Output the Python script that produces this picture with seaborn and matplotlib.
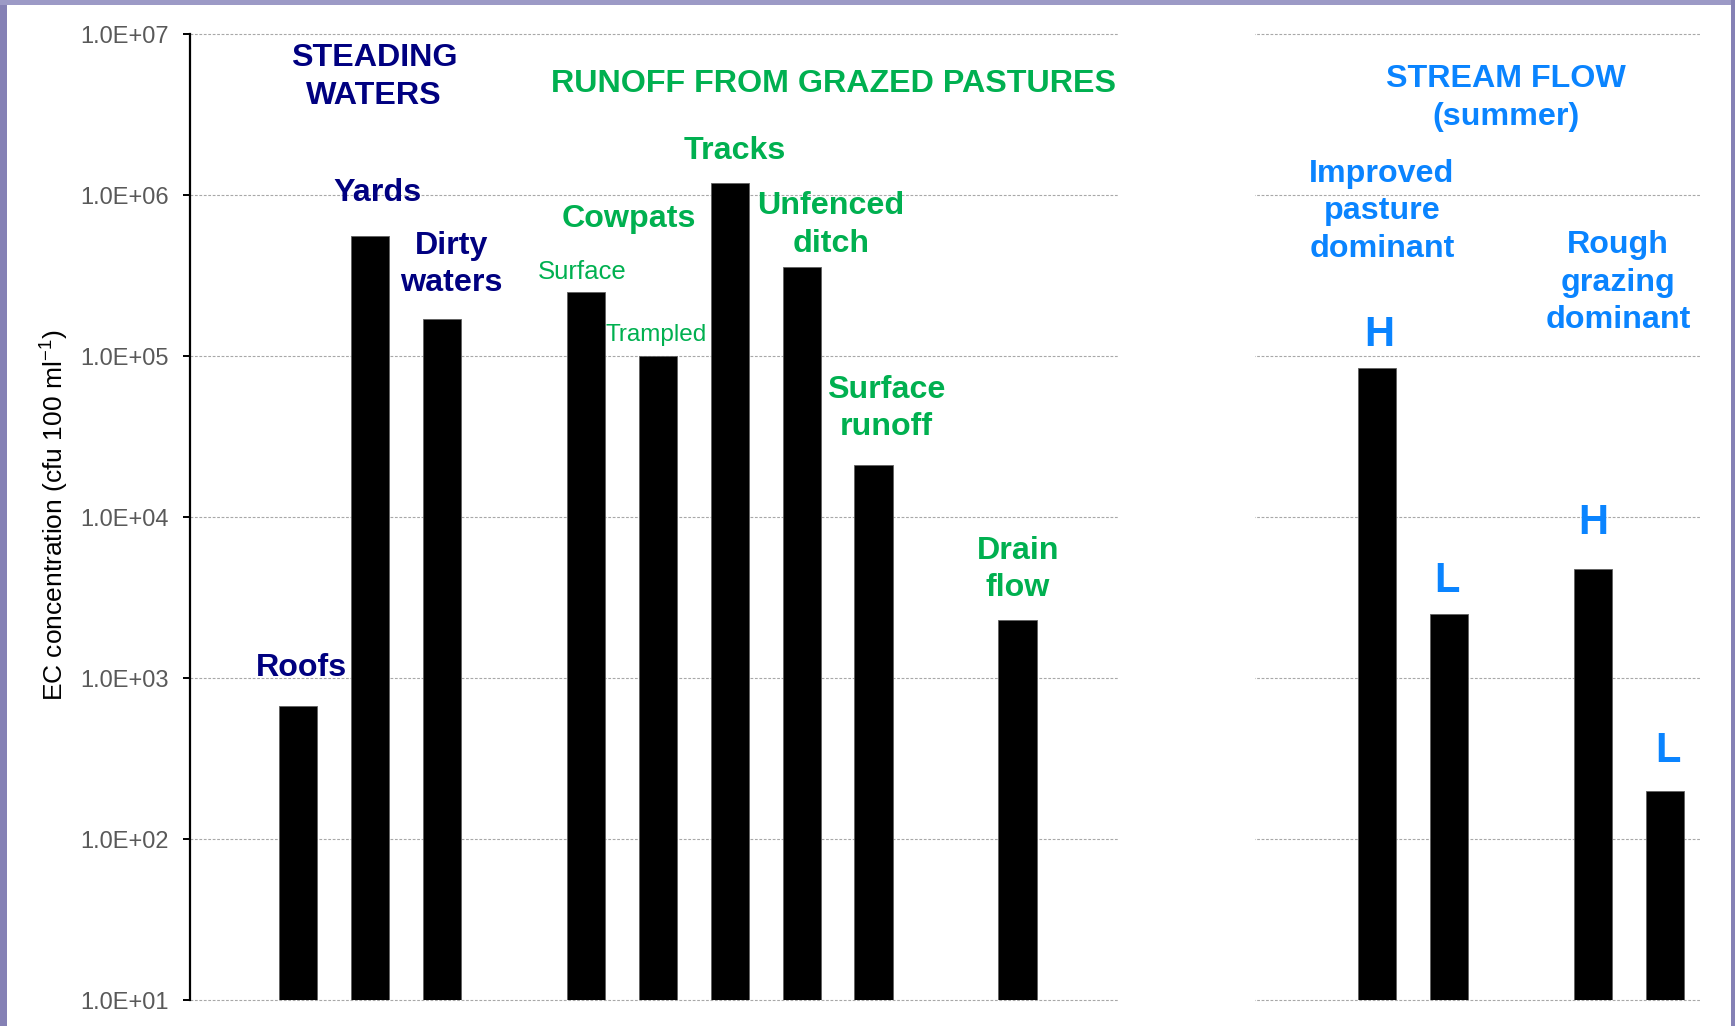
import numpy as np
import pandas as pd
import matplotlib
matplotlib.use("Agg")
import matplotlib.pyplot as plt
from matplotlib.ticker import FixedLocator, FuncFormatter, NullLocator
from matplotlib.patches import Rectangle
import seaborn as sns

# ---------------- data ----------------
sites = ["Roofs", "Yards", "Dirty waters",
         "Cowpats surface", "Cowpats trampled", "Tracks", "Unfenced ditch",
         "Surface runoff", "Drain flow",
         "Improved pasture H", "Improved pasture L",
         "Rough grazing H", "Rough grazing L"]
ec_values = [670, 560000, 170000,
             250000, 100000, 1200000, 360000,
             21000, 2300,
             85000, 2500,
             4800, 200]
ytick_values = [1e1, 1e2, 1e3, 1e4, 1e5, 1e6, 1e7]

# category order incl. empty slots (layout)
order = ["_0", "Roofs", "Yards", "Dirty waters", "_1",
         "Cowpats surface", "Cowpats trampled", "Tracks", "Unfenced ditch",
         "Surface runoff", "_2", "Drain flow", "_3", "_4", "_5", "_6",
         "Improved pasture H", "Improved pasture L", "_7",
         "Rough grazing H", "Rough grazing L"]

df = pd.DataFrame({"site": sites, "ec": ec_values})

# ---------------- style ----------------
sns.set_style("white")
plt.rcParams["font.family"] = ["Liberation Sans", "DejaVu Sans"]
plt.rcParams["mathtext.fontset"] = "custom"
plt.rcParams["mathtext.rm"] = "Liberation Sans"
plt.rcParams["mathtext.it"] = "Liberation Sans:italic"
plt.rcParams["mathtext.bf"] = "Liberation Sans:bold"

W, H = 1735, 1026
fig = plt.figure(figsize=(W / 100, H / 100), dpi=100)
fig.patch.set_facecolor("white")

ax_l, ax_r, ax_t, ax_b = 190, 1701, 34.3, 1000.3
ax = fig.add_axes([ax_l / W, 1 - ax_b / H, (ax_r - ax_l) / W, (ax_b - ax_t) / H])

sns.barplot(data=df, x="site", y="ec", order=order, color="black",
            width=0.53, edgecolor="#606060", linewidth=0.6,
            saturation=1, errorbar=None, ax=ax)
for p in ax.patches:
    p.set_facecolor("black")

ax.set_yscale("log")
ax.set_ylim(10, 1e7)
ax.set_xlim(-0.5, len(order) - 0.5)
ax.yaxis.set_major_locator(FixedLocator(ytick_values))
ax.yaxis.set_minor_locator(NullLocator())
ax.yaxis.set_major_formatter(FuncFormatter(lambda v, pos: f"{v:.1E}"))

ax.set_axisbelow(True)
ax.grid(axis="y", which="major", color="#a8a8a8", linestyle=(0, (2.5, 1.5)), linewidth=0.8)
ax.grid(axis="x", visible=False)
for gl in ax.get_ygridlines():
    gl.set_clip_on(False)
# white gap in gridlines (layout)
ax.axvspan(12.4, 14.3, ymin=-0.01, ymax=1.01, color="white", zorder=0.8, lw=0,
           clip_on=False)

for s in ["top", "right", "bottom"]:
    ax.spines[s].set_visible(False)
ax.spines["left"].set_color("black")
ax.spines["left"].set_linewidth(1.6)

ax.set_xticks([])
ax.set_xlabel("")
ax.tick_params(axis="y", which="major", direction="out", length=5, width=1.4,
               color="black", left=True, labelsize=17, labelcolor="#595959", pad=10)
ax.set_ylabel("EC concentration (cfu 100 ml$^{\\mathregular{-1}}$)", fontsize=19, color="black")
ax.yaxis.set_label_coords(-0.079, 0.502)

# ---------------- annotations ----------------
navy = "#000080"
green = "#00b050"
blue = "#0a84ff"

def px(x, y):
    return ((x - ax_l) / (ax_r - ax_l), (ax_b - y) / (ax_b - ax_t))

def label(x, y, s, color, size=23.2, weight="bold", ls=1.33, dy=3.5):
    xa, ya = px(x, y + dy)
    ax.text(xa, ya, s, transform=ax.transAxes, ha="center", va="center",
            multialignment="center", color=color, fontsize=size,
            fontweight=weight, linespacing=ls, zorder=5)

label(374, 73.6, "STEADING\nWATERS", navy)
label(377.3, 189.2, "Yards", navy)
label(451.5, 261.1, "Dirty\nwaters", navy)
label(301, 665, "Roofs", navy)

label(833, 80.8, "RUNOFF FROM GRAZED PASTURES", green)
label(734.7, 147.2, "Tracks", green)
label(628.5, 215.8, "Cowpats", green)
label(831, 221.3, "Unfenced\nditch", green)
label(582, 270, "Surface", green, size=18.5, weight="normal", dy=2.2)
label(656, 333, "Trampled", green, size=17.5, weight="normal", dy=2.2)
label(886, 405, "Surface\nrunoff", green)
label(1018, 566, "Drain\nflow", green)

label(1506, 94.6, "STREAM FLOW\n(summer)", blue)
label(1382, 208, "Improved\npasture\ndominant", blue)
label(1618, 279, "Rough\ngrazing\ndominant", blue)
label(1379, 332, "H", blue, size=30)
label(1447, 577.6, "L", blue, size=30)
label(1593, 520, "H", blue, size=30)
label(1667.5, 748, "L", blue, size=30)

# slide frame
fig.add_artist(Rectangle((0, 0), 7 / W, 1, transform=fig.transFigure,
                         color="#8581b5", lw=0, zorder=10))
fig.add_artist(Rectangle((0, 1 - 5 / H), 1, 5 / H, transform=fig.transFigure,
                         color="#9c9ac6", lw=0, zorder=10))
fig.add_artist(Rectangle((1 - 4 / W, 0), 4 / W, 1, transform=fig.transFigure,
                         color="#8581b5", lw=0, zorder=10))

fig.savefig("out.png", dpi=100, facecolor="white")
